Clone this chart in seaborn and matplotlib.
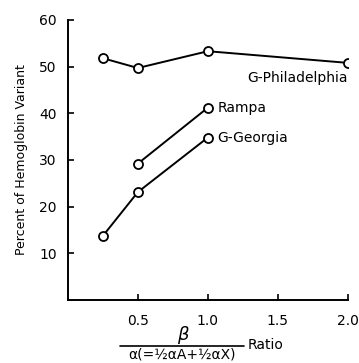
import pandas as pd
import matplotlib
matplotlib.use('Agg')
import matplotlib.pyplot as plt
import seaborn as sns

# data
phil_x = [0.25, 0.5, 1.0, 2.0]
phil_y = [51.8, 49.7, 53.3, 50.8]
rampa_x = [0.5, 1.0]
rampa_y = [29.2, 41.2]
georgia_x = [0.25, 0.5, 1.0]
georgia_y = [13.7, 23.1, 34.8]
series_names = ['G-Philadelphia', 'Rampa', 'G-Georgia']
x_ticks = [0.5, 1.0, 1.5, 2.0]
y_ticks = [10, 20, 30, 40, 50, 60]

sns.set_style('ticks')
plt.rcParams['font.family'] = ['DejaVu Sans']
plt.rcParams['text.color'] = 'black'
plt.rcParams['axes.labelcolor'] = 'black'

df = pd.concat([
    pd.DataFrame({'ratio': phil_x, 'pct': phil_y, 'variant': series_names[0]}),
    pd.DataFrame({'ratio': rampa_x, 'pct': rampa_y, 'variant': series_names[1]}),
    pd.DataFrame({'ratio': georgia_x, 'pct': georgia_y, 'variant': series_names[2]}),
])

fig = plt.figure(figsize=(3.59, 3.63), dpi=100)
ax = fig.add_axes([0.189, 0.174, 0.78, 0.771])

for name in series_names:
    sub = df[df['variant'] == name]
    sns.lineplot(data=sub, x='ratio', y='pct', ax=ax, color='black', lw=1.4,
                 marker='o', markersize=6.5, markerfacecolor='white',
                 markeredgecolor='black', markeredgewidth=1.3, legend=False)

ax.set_xlim(0, 2.0)
ax.set_ylim(0, 60)
ax.set_xticks(x_ticks)
ax.set_xticklabels(['0.5', '1.0', '1.5', '2.0'])
ax.set_yticks(y_ticks)
ax.tick_params(direction='in', length=4, width=1.2, labelsize=10, pad=8, colors='black')
ax.tick_params(axis='x', pad=10)
for s in ['left', 'bottom']:
    ax.spines[s].set_linewidth(1.4)
    ax.spines[s].set_color('black')
sns.despine(ax=ax)
ax.set_xlabel('')
ax.set_ylabel('Percent of Hemoglobin Variant', fontsize=9, labelpad=8)

# series labels
ax.text(2.0, 47.5, 'G-Philadelphia', ha='right', va='center', fontsize=10)
ax.text(1.07, 41.2, 'Rampa', ha='left', va='center', fontsize=10)
ax.text(1.07, 34.8, 'G-Georgia', ha='left', va='center', fontsize=10)

# fraction x label
fig.text(183 / 359, 1 - 335 / 363, r'$\beta$', ha='center', va='center', fontsize=13)
fig.add_artist(plt.Line2D([120 / 359, 244 / 359], [1 - 346 / 363, 1 - 346 / 363],
                          color='black', lw=1.2))
fig.text(182 / 359, 1 - 355 / 363, 'α(=½αA+½αX)',
         ha='center', va='center', fontsize=10)
fig.text(248 / 359, 1 - 345 / 363, 'Ratio', ha='left', va='center', fontsize=10)

fig.savefig('out.png', dpi=100)
